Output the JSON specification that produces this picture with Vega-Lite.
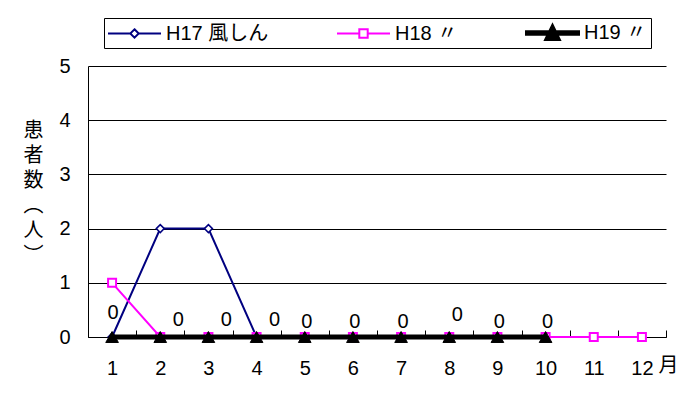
{
  "$schema": "https://vega.github.io/schema/vega-lite/v6.json",
  "width": 578,
  "height": 271,
  "autosize": {"type": "none"},
  "padding": {"left": 88, "top": 66, "right": 28, "bottom": 63},
  "background": "white",
  "config": {
    "font": "Liberation Sans, Noto Sans CJK JP",
    "view": {"stroke": null},
    "axis": {"labelFontSize": 20, "labelColor": "black", "labelFont": "Liberation Sans", "titleColor": "black", "titleFontWeight": "normal"}
  },
  "data": {
    "values": [
      {"month": 1, "series": "H17 風しん", "value": 0},
      {"month": 2, "series": "H17 風しん", "value": 2},
      {"month": 3, "series": "H17 風しん", "value": 2},
      {"month": 4, "series": "H17 風しん", "value": 0},
      {"month": 5, "series": "H17 風しん", "value": 0},
      {"month": 6, "series": "H17 風しん", "value": 0},
      {"month": 7, "series": "H17 風しん", "value": 0},
      {"month": 8, "series": "H17 風しん", "value": 0},
      {"month": 9, "series": "H17 風しん", "value": 0},
      {"month": 10, "series": "H17 風しん", "value": 0},
      {"month": 1, "series": "H18 〃", "value": 1},
      {"month": 2, "series": "H18 〃", "value": 0},
      {"month": 3, "series": "H18 〃", "value": 0},
      {"month": 4, "series": "H18 〃", "value": 0},
      {"month": 5, "series": "H18 〃", "value": 0},
      {"month": 6, "series": "H18 〃", "value": 0},
      {"month": 7, "series": "H18 〃", "value": 0},
      {"month": 8, "series": "H18 〃", "value": 0},
      {"month": 9, "series": "H18 〃", "value": 0},
      {"month": 10, "series": "H18 〃", "value": 0},
      {"month": 11, "series": "H18 〃", "value": 0},
      {"month": 12, "series": "H18 〃", "value": 0},
      {"month": 1, "series": "H19 〃", "value": 0},
      {"month": 2, "series": "H19 〃", "value": 0},
      {"month": 3, "series": "H19 〃", "value": 0},
      {"month": 4, "series": "H19 〃", "value": 0},
      {"month": 5, "series": "H19 〃", "value": 0},
      {"month": 6, "series": "H19 〃", "value": 0},
      {"month": 7, "series": "H19 〃", "value": 0},
      {"month": 8, "series": "H19 〃", "value": 0},
      {"month": 9, "series": "H19 〃", "value": 0},
      {"month": 10, "series": "H19 〃", "value": 0}
    ]
  },
  "encoding": {
    "x": {
      "field": "month", "type": "ordinal",
      "scale": {"domain": [1,2,3,4,5,6,7,8,9,10,11,12], "paddingInner": 0, "paddingOuter": 0},
      "axis": {
        "title": "月", "titleFont": "Noto Sans CJK JP", "titleFontSize": 20,
        "titleX": 580, "titleY": 28, "titleAlign": "center", "titleBaseline": "middle", "titleAnchor": null,
        "labelAngle": 0, "labelPadding": 38, "labelBaseline": "middle",
        "tickBand": "extent", "tickSize": -7, "tickColor": "black", "domainColor": "black", "grid": false
      }
    },
    "y": {
      "field": "value", "type": "quantitative",
      "scale": {"domain": [0, 5], "nice": false},
      "axis": {
        "values": [0,1,2,3,4,5], "ticks": false, "grid": true, "gridColor": "black", "gridOpacity": 1,
        "domainColor": "black", "labelPadding": 18, "format": "d",
        "title": ["患", "者", "数", "︵", "人", "︶"],
        "titleFont": "Noto Sans CJK JP", "titleFontSize": 20, "titleAngle": 0,
        "titleX": -55, "titleY": 64, "titleAlign": "center", "titleBaseline": "middle", "titleLineHeight": 25
      }
    }
  },
  "layer": [
    {
      "transform": [{"filter": "datum.series === 'H17 風しん'"}],
      "mark": {"type": "line", "strokeWidth": 2},
      "encoding": {
        "color": {
          "field": "series", "type": "nominal",
          "scale": {"domain": ["H17 風しん", "H18 〃", "H19 〃"], "range": ["#000080", "#FF00FF", "#000000"]},
          "legend": {
            "title": null, "orient": "none", "direction": "horizontal",
            "legendX": 16, "legendY": -48,
            "strokeColor": "black", "padding": 4, "fillColor": "white",
            "symbolSize": 400, "symbolStrokeWidth": 2, "symbolOffset": 15.5,
            "labelFontSize": 20, "labelFont": "Liberation Sans, Noto Sans CJK JP",
            "labelColor": "black", "labelOffset": 20.5, "columnPadding": 64,
            "encode": {
              "symbols": {
                "update": {
                  "shape": {"signal": "datum.index === 0 ? 'M-2.65,0H-0.42M0.42,0H2.65M0,-0.42L0.42,0L0,0.42L-0.42,0Z' : datum.index === 1 ? 'M-2.65,0H-0.42M0.42,0H2.65M-0.42,-0.42H0.42V0.42H-0.42Z' : 'M-2.65,-0.18H2.65V0.18H-2.65ZM-0.75,0.7L0,-0.85L0.75,0.7Z'"},
                  "fill": {"signal": "datum.index === 2 ? 'black' : 'white'"},
                  "opacity": {"value": 1}
                }
              }
            }
          }
        }
      }
    },
    {
      "transform": [{"filter": "datum.series === 'H17 風しん'"}],
      "mark": {"type": "point", "shape": "diamond", "filled": true, "fill": "white", "stroke": "#000080", "strokeWidth": 1.5, "size": 64, "opacity": 1}
    },
    {
      "transform": [{"filter": "datum.series === 'H18 〃'"}],
      "mark": {"type": "line", "strokeWidth": 2},
      "encoding": {"color": {"field": "series", "type": "nominal"}}
    },
    {
      "transform": [{"filter": "datum.series === 'H18 〃'"}],
      "mark": {"type": "point", "shape": "square", "filled": true, "fill": "white", "stroke": "#FF00FF", "strokeWidth": 2, "size": 64, "opacity": 1}
    },
    {
      "transform": [{"filter": "datum.series === 'H19 〃'"}],
      "mark": {"type": "line", "strokeWidth": 5},
      "encoding": {"color": {"field": "series", "type": "nominal"}}
    },
    {
      "transform": [{"filter": "datum.series === 'H19 〃'"}],
      "mark": {"type": "point", "shape": "triangle-up", "filled": true, "fill": "black", "stroke": "black", "strokeWidth": 1, "size": 160, "opacity": 1}
    },
    {
      "transform": [{"filter": "datum.series === 'H19 〃' && datum.month === 1"}],
      "mark": {"type": "text", "fontSize": 20, "font": "Liberation Sans", "color": "black", "dx": 1, "dy": -24, "baseline": "middle"},
      "encoding": {"text": {"field": "value", "type": "quantitative"}}
    },
    {
      "transform": [{"filter": "datum.series === 'H19 〃' && datum.month >= 2 && datum.month <= 4"}],
      "mark": {"type": "text", "fontSize": 20, "font": "Liberation Sans", "color": "black", "dx": 18, "dy": -17, "baseline": "middle"},
      "encoding": {"text": {"field": "value", "type": "quantitative"}}
    },
    {
      "transform": [{"filter": "datum.series === 'H19 〃' && datum.month === 8"}],
      "mark": {"type": "text", "fontSize": 20, "font": "Liberation Sans", "color": "black", "dx": 8, "dy": -22, "baseline": "middle"},
      "encoding": {"text": {"field": "value", "type": "quantitative"}}
    },
    {
      "transform": [{"filter": "datum.series === 'H19 〃' && datum.month >= 5 && datum.month !== 8"}],
      "mark": {"type": "text", "fontSize": 20, "font": "Liberation Sans", "color": "black", "dx": 2, "dy": -15, "baseline": "middle"},
      "encoding": {"text": {"field": "value", "type": "quantitative"}}
    }
  ]
}
